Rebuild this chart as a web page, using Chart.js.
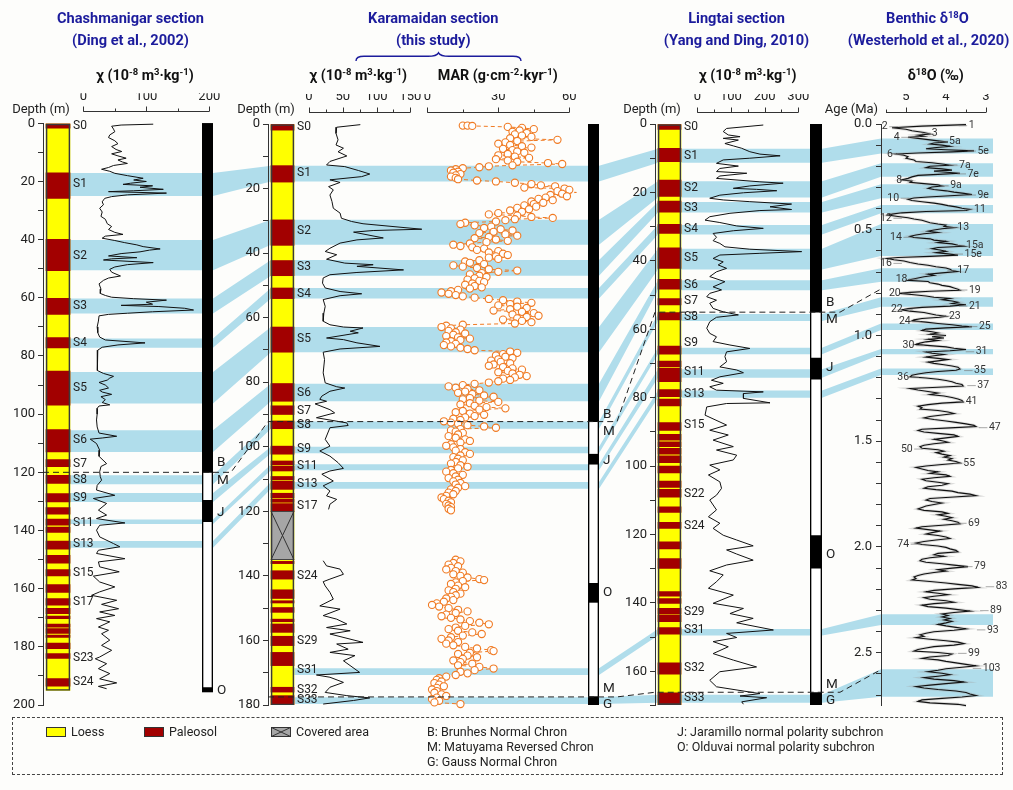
<!DOCTYPE html>
<html><head><meta charset="utf-8">
<title>Loess sections correlation</title>
<script src="https://cdn.jsdelivr.net/npm/chart.js@4.4.1/dist/chart.umd.min.js"></script>
<style>
html,body{margin:0;padding:0;background:#fdfdfb;}
#wrap{position:relative;width:1013px;height:790px;overflow:hidden;font-family:Roboto,"Noto Sans",sans-serif;color:#222;background:#fdfdfb;}
#wrap canvas{position:absolute;left:0;top:0;}
.tx{position:absolute;white-space:nowrap;transform:translate(-50%,-50%);line-height:1;z-index:60;}
.title{font-weight:bold;font-size:14.6px;color:#1c1c9c;}
.ax{font-weight:bold;font-size:14.3px;color:#111;}
.sup{font-size:9.5px;position:relative;top:-0.5em;}
.lbl{font-size:13px;color:#222;}
#legend{position:absolute;left:12px;top:717px;width:991px;height:58px;border:1px dashed #444;box-sizing:border-box;z-index:60;}
.lg{position:absolute;font-size:12.5px;white-space:nowrap;line-height:1;transform:translateY(-50%);z-index:61;color:#222;}
.sw{position:absolute;width:20px;height:10px;border:1px solid #333;box-sizing:border-box;z-index:61;}
</style></head>
<body>
<div id="wrap">
  <div class="tx title" style="left:130.5px;top:17.5px">Chashmanigar section</div>
  <div class="tx title" style="left:130.5px;top:39.5px">(Ding et al., 2002)</div>
  <div class="tx title" style="left:433.3px;top:17.5px">Karamaidan section</div>
  <div class="tx title" style="left:433.3px;top:39.5px">(this study)</div>
  <div class="tx title" style="left:736.5px;top:17.5px">Lingtai section</div>
  <div class="tx title" style="left:736.5px;top:39.5px">(Yang and Ding, 2010)</div>
  <div class="tx title" style="left:927.5px;top:17.5px">Benthic δ<span class="sup">18</span>O</div>
  <div class="tx title" style="left:928.5px;top:39.5px">(Westerhold et al., 2020)</div>

  <div class="tx ax" style="left:145px;top:75px">χ (10<span class="sup">-8</span> m<span class="sup">3</span>·kg<span class="sup">-1</span>)</div>
  <div class="tx ax" style="left:358.3px;top:74.5px">χ (10<span class="sup">-8</span> m<span class="sup">3</span>·kg<span class="sup">-1</span>)</div>
  <div class="tx ax" style="left:497.8px;top:74.5px">MAR (g·cm<span class="sup">-2</span>·kyr<span class="sup">-1</span>)</div>
  <div class="tx ax" style="left:747.8px;top:75px">χ (10<span class="sup">-8</span> m<span class="sup">3</span>·kg<span class="sup">-1</span>)</div>
  <div class="tx ax" style="left:935.8px;top:75px">δ<span class="sup">18</span>O (‰)</div>

  <div class="tx lbl" style="left:41px;top:108.3px">Depth (m)</div>
  <div class="tx lbl" style="left:266px;top:108.3px">Depth (m)</div>
  <div class="tx lbl" style="left:652px;top:108.3px">Depth (m)</div>
  <div class="tx lbl" style="left:851.5px;top:108.3px">Age (Ma)</div>

  <svg style="position:absolute;left:0;top:0;z-index:60;pointer-events:none" width="1013" height="80">
    <path d="M356,61 C356,57.5 359,56.3 364,56.3 L428,56.3 C434,56.3 437,55.5 438.5,52.8 C440,55.5 443,56.3 449,56.3 L513,56.3 C518,56.3 521,57.5 521,61" fill="none" stroke="#1c1c9c" stroke-width="1.4"/>
  </svg>

  <div id="legend"></div>
  <div class="sw" style="left:46px;top:727px;background:#ffff00"></div>
  <div class="lg" style="left:71px;top:732px">Loess</div>
  <div class="sw" style="left:144px;top:727px;background:#a20000"></div>
  <div class="lg" style="left:169px;top:732px">Paleosol</div>
  <svg style="position:absolute;left:271px;top:727px;z-index:61" width="20" height="10"><rect x="0.5" y="0.5" width="19" height="9" fill="#a6a6a6" stroke="#333"/><path d="M0.5,0.5 L19.5,9.5 M19.5,0.5 L0.5,9.5" stroke="#333" stroke-width="1"/></svg>
  <div class="lg" style="left:296px;top:732px">Covered area</div>
  <div class="lg" style="left:427px;top:732px">B: Brunhes Normal Chron</div>
  <div class="lg" style="left:427px;top:747px">M: Matuyama Reversed Chron</div>
  <div class="lg" style="left:427px;top:762px">G: Gauss Normal Chron</div>
  <div class="lg" style="left:677px;top:732px">J: Jaramillo normal polarity subchron</div>
  <div class="lg" style="left:677px;top:747px">O: Olduvai normal polarity subchron</div>
</div>
<script>
// ---------------- DATA ----------------
// Chashmanigar
const chashColumn = [0, 195];
const chashPaleosol = [[0,1.7],[17,25.8],[39.9,50.7],[60.2,65.7],[73.7,77.2],[85.2,96.9],[105.3,113],[115.6,118.1],[121,123.8],[127.3,130.2],[132.1,134.4],[136.1,138.2],[138.8,140.7],[143.6,146.4],[148.5,151.2],[153.4,155.6],[158.6,161.3],[163.4,165.7],[166.8,168.6],[169.4,170.3],[172.2,173.2],[173.7,175.4],[176,176.8],[178.7,180.6],[182.3,184],[190.9,193.5]];
const chashSoilNames = ['S0','S1','S2','S3','S4','S5','S6','S7','S8','S9','S11','S13','S15','S17','S23','S24'];
const chashSoilDepth = [1.0,21,45.6,62.9,75.5,91,109,117,122.7,128.7,137.3,144.8,154.5,164.6,183.7,192.1];
const chashChi = [[0.3,111],[0.6,60],[1,45],[2,48],[2.9,50],[4,42],[4.9,40],[6,50],[7,55],[8,45],[9,52],[9.7,61],[10.5,45],[11.2,55],[12,68],[12.6,55],[13.3,62],[13.8,70],[14.5,48],[15.2,40],[15.8,29],[16.5,42],[17.2,50],[18,70],[18.9,95],[19.5,80],[20,100],[20.6,75],[21,63],[21.5,110],[22,90],[22.7,127],[23.2,80],[23.5,40],[24,132],[24.6,70],[25.2,45],[25.8,34],[27,30],[28,32],[29.2,26],[30.5,30],[32,28],[33,35],[34.5,38],[35.5,45],[36.5,40],[37.5,50],[38.2,63],[38.8,35],[39.5,30],[40.3,50],[41,65],[41.8,85],[42.4,95],[43.2,122],[43.6,105],[44.2,90],[44.8,60],[45.6,40],[46.2,85],[46.6,45],[47,32],[47.9,111],[48.6,70],[49.4,50],[50.2,42],[51.2,45],[52.5,59],[53.2,40],[54,32],[55.2,25],[57,28],[58.5,27],[59.2,35],[59.8,45],[60.3,80],[60.8,132],[61.5,100],[62.2,110],[62.6,60],[63,120],[63.6,161],[64.2,175],[64.8,110],[65.3,70],[65.7,40],[66.2,25],[68,24],[70,22],[72,23],[73.5,26],[74.5,35],[75.5,98],[76.2,55],[77,30],[78,23],[80,22],[83,22],[85,23],[86,32],[87,48],[87.6,42],[88.3,38],[89.1,25],[90,35],[91,40],[91.8,26],[92.4,30],[93.2,45],[94,28],[95,35],[96,30],[96.8,42],[97.2,25],[98,22],[100,22],[102,21],[104.4,22],[106.5,25],[107.6,53],[108.2,30],[108.6,11],[110.1,21],[112.4,26],[114.5,25],[117,37],[118,28],[119.8,26],[121.5,27],[122.7,29],[124.5,22],[126.1,21],[127.9,50],[129,16],[130.7,37],[133,24],[134.7,37],[135.9,21],[137.4,66],[138.2,26],[139.9,21],[142.2,26],[144.5,48],[145.6,58],[146.8,24],[147.9,21],[149.7,66],[150.8,24],[152.5,26],[154.2,57],[155.7,16],[157.7,26],[159.4,50],[161.1,26],[162.3,13],[164,53],[165.4,29],[166.9,56],[168,26],[169.2,50],[170.3,21],[171.4,42],[173.2,24],[174.3,40],[175.5,29],[177.7,42],[179.5,29],[181.2,45],[183.5,26],[184.1,19],[185.8,37],[187.5,24],[189.2,42],[191,26],[192.4,53],[193.6,24],[194.4,37]];
const chashMagExtent = [0, 195.5];
const chashNormal = [[0,120],[129.6,137],[194,195.5]];
const chashMagNames = ['B','M','J','O'];
const chashMagDepth = [116.5,122.7,133.7,194.9];

// Karamaidan
const karaColumn = [0, 180];
const karaCovered = [120, 135];
const karaPaleosol = [[0,1.9],[12.9,18],[29.7,37.6],[42.3,47],[50.8,54.1],[62.9,70.7],[80.4,85.9],[87.3,90],[92,94.4],[99.8,102.3],[104.4,105.6],[106,107.5],[109.2,110.2],[110.6,113.2],[114.4,115.8],[116.2,117.2],[117.6,120],[135.5,136.2],[138.4,141],[144.3,147],[147.7,148.4],[149.8,151.3],[153.4,154.2],[154.9,157.5],[158.7,161.6],[163.7,167.8],[174.5,176],[177.1,180]];
const karaSoilNames = ['S0','S1','S2','S3','S4','S5','S6','S7','S8','S9','S11','S13','S17','S24','S29','S31','S32','S33'];
const karaSoilDepth = [1,15.3,33.3,44.3,52.6,66.6,83.3,88.9,93.4,100.8,106,111.6,118.5,140,160.1,169.1,175.5,178.6];
const karaChiUpper = [[0.2,76],[1,41],[2.9,40],[4.9,43],[6.5,40],[7.5,51],[8.6,43],[9.9,56],[11.6,31],[12.7,26],[13.2,53],[14.4,73],[15.5,90],[16.3,78],[17.3,31],[18.1,46],[19.4,29],[20.4,36],[22,31],[24,34],[26.1,36],[27.6,46],[29.2,48],[30.2,63],[30.9,80],[32.6,167],[33,95],[33.5,66],[35.3,110],[35.9,71],[36.9,46],[38.5,31],[39.5,24],[40.5,41],[41.9,26],[43.1,53],[43.6,95],[44.1,71],[45.2,140],[46,71],[46.7,31],[47.7,21],[49.3,20],[50.8,24],[51.9,46],[52.6,78],[53.2,46],[54.4,21],[56.5,24],[58.6,22],[61.1,21],[62.2,31],[62.9,51],[63.2,80],[64.2,61],[64.7,73],[66.3,26],[66.8,51],[67.8,71],[68.9,105],[69.7,46],[70.7,21],[73,23],[77.1,21],[80.2,24],[81.4,41],[81.8,53],[82.8,31],[84.3,19],[85.3,16],[85.9,26],[86.7,9],[88.5,31],[89.5,38],[91,11],[92.6,56],[93.4,58],[94.1,31],[97.7,24],[99.8,31],[101.3,16],[102.9,31],[104.9,43],[106.7,51],[107.5,31],[108.5,19],[110.6,36],[112.1,21],[113.7,31],[115.2,26],[116.3,41],[117.8,31],[119.4,29]];
const karaChiLower = [[135.3,21],[136.9,26],[137.9,46],[139.5,51],[141,31],[141.8,21],[143.1,24],[145.1,31],[147.2,36],[149.3,16],[150.3,46],[152.3,21],[153.4,41],[154.9,56],[156,26],[157,61],[158,31],[160.6,80],[161.1,41],[162.7,58],[163.7,31],[164.7,68],[166.3,51],[169.9,75],[170.7,11],[171.4,31],[173,51],[174.5,31],[176.1,24],[177.1,56],[177.8,90],[178.6,66],[179.7,21]];
const karaMarUpper = [[0.5,15],[0.5,17],[0.6,19],[0.9,34],[1.2,40],[1.6,45],[2.0,39],[2.4,36],[2.8,42],[3.2,37],[3.6,40],[4.0,44],[4.4,35],[4.9,55],[5.3,38],[5.7,33],[6.1,30],[6.5,35],[6.9,40],[7.3,44],[7.7,32],[8.1,36],[8.5,38],[8.9,41],[9.3,34],[9.7,30],[10.1,37],[10.5,43],[10.9,29],[11.3,34],[11.7,38],[12.1,51],[12.4,57],[12.8,36],[13.1,26],[13.4,22],[13.7,15],[14.0,12],[14.4,10],[14.8,13],[15.1,11],[15.5,14],[15.9,12],[16.3,10],[16.7,12],[17.1,13],[17.5,21],[17.8,29],[18.2,37],[18.6,44],[19.0,48],[19.3,54],[19.7,41],[20.0,58],[20.4,60],[20.8,55],[21.2,63],[21.6,57],[22.0,52],[22.4,59],[22.8,50],[23.2,47],[23.6,53],[24.0,44],[24.4,49],[24.8,45],[25.2,41],[25.6,46],[26.0,38],[26.4,43],[26.8,35],[27.2,40],[27.6,30],[28.0,26],[28.4,38],[28.8,44],[29.1,53],[29.5,37],[29.8,33],[30.2,29],[30.6,16],[31.0,14],[31.4,20],[31.8,27],[32.2,24],[32.6,31],[33.0,36],[33.4,28],[33.8,22],[34.2,33],[34.6,38],[35.0,26],[35.4,20],[35.8,29],[36.2,34],[36.6,25],[37.0,18],[37.4,11],[37.8,14],[38.2,19],[38.6,24],[39.0,21],[39.4,30],[39.8,26],[40.2,32],[40.6,34],[41.0,29],[41.4,26],[41.8,30],[42.2,22],[42.6,16],[43.0,18],[43.4,24],[43.8,11],[44.2,15],[44.6,21],[45.0,26],[45.4,38],[45.8,30],[46.2,23],[46.6,18],[47.0,22],[47.4,25],[47.8,20],[48.2,17],[48.6,22],[49.0,24],[49.4,19],[49.8,16],[50.2,20],[50.6,23],[51.0,18],[51.4,13],[51.8,10],[52.2,6],[52.6,9],[53.0,12],[53.4,15],[53.8,20],[54.2,26],[54.6,32],[55.0,38],[55.4,44],[55.8,35],[56.2,30],[56.6,38],[57.0,42],[57.4,35],[57.8,28],[58.2,40],[58.6,45],[59.0,36],[59.4,47],[59.8,42],[60.2,38],[60.6,32],[61.0,40],[61.4,44],[61.8,37],[62.2,15],[62.5,8],[62.9,6],[63.3,10],[63.7,14],[64.1,9],[64.5,12],[64.9,16],[65.3,11],[65.7,8],[66.1,13],[66.5,18],[66.9,14],[67.3,10],[67.7,8],[68.1,12],[68.5,7],[68.9,10],[69.3,14],[69.7,17],[70.1,20],[70.5,35],[70.9,38],[71.3,32],[71.7,29],[72.1,33],[72.5,36],[72.9,30],[73.3,27],[73.7,31],[74.1,35],[74.5,28],[74.9,26],[75.3,32],[75.7,36],[76.1,40],[76.5,34],[76.9,30],[77.3,36],[77.7,39],[78.1,42],[78.5,37],[78.9,32],[79.3,35],[79.7,30],[80.1,26],[80.5,20],[80.9,15],[81.3,9],[81.7,12],[82.1,17],[82.5,22],[82.9,16],[83.3,13],[83.7,19],[84.1,24],[84.5,28],[84.9,18],[85.3,15],[85.7,22],[86.1,30],[86.5,18],[86.9,14],[87.3,20],[87.7,25],[88.1,33],[88.5,22],[88.9,15],[89.3,12],[89.7,18],[90.1,24],[90.5,20],[90.9,16],[91.3,11],[91.7,14],[92.1,7],[92.5,10],[92.9,13],[93.3,17],[93.7,24],[94.1,29],[94.5,14],[94.9,10],[95.3,12],[95.7,15],[96.2,13],[96.7,9],[97.2,12],[97.7,16],[98.2,18],[98.7,14],[99.2,10],[99.7,8],[100.2,11],[100.7,14],[101.2,12],[101.7,16],[102.2,18],[102.7,14],[103.2,11],[103.7,13],[104.2,15],[104.7,12],[105.2,10],[105.7,14],[106.2,17],[106.7,13],[107.2,10],[107.7,8],[108.2,11],[108.7,15],[109.2,12],[109.7,9],[110.2,13],[110.7,11],[111.2,14],[111.7,12],[112.2,16],[112.7,13],[113.2,10],[113.7,12],[114.2,9],[114.7,11],[115.2,8],[115.7,6],[116.2,7],[116.7,9],[117.2,10],[117.7,8],[118.2,9],[118.7,10],[119.2,9],[119.7,10]];
const karaMarLower = [[135.0,12],[135.5,14],[136.0,11],[136.5,9],[137.0,13],[137.5,10],[138.0,8],[138.5,12],[139.0,15],[139.5,11],[140.0,14],[140.5,17],[141.0,22],[141.3,24],[141.6,15],[142.0,12],[142.5,10],[143.0,13],[143.5,16],[144.0,12],[144.5,9],[145.0,11],[145.5,14],[146.0,12],[146.5,10],[147.0,8],[147.5,11],[148.0,7],[148.5,4],[149.0,2],[149.5,5],[150.0,9],[150.5,13],[151.0,17],[151.5,12],[152.0,8],[152.5,6],[153.0,10],[153.5,14],[154.0,18],[154.5,22],[155.0,26],[155.5,16],[156.0,12],[156.5,9],[157.0,13],[157.5,19],[158.0,23],[158.5,15],[159.0,10],[159.5,6],[160.0,9],[160.5,13],[161.0,8],[161.5,11],[162.0,16],[162.5,21],[163.0,27],[163.3,28],[163.8,18],[164.2,13],[164.7,17],[165.2,21],[165.7,15],[166.2,11],[166.7,14],[167.2,19],[167.7,13],[168.2,22],[168.7,28],[169.2,20],[169.7,14],[170.2,17],[170.7,12],[171.2,8],[171.7,5],[172.2,4],[172.7,6],[173.2,3],[173.7,5],[174.2,7],[174.7,4],[175.2,2],[175.7,4],[176.2,3],[176.7,6],[177.2,8],[177.7,4],[178.2,2],[178.7,5],[179.2,3],[179.7,14]];
const karaMagExtent = [0, 180];
const karaNormal = [[0,92.2],[102.3,105.4],[142.3,148.2],[177.4,180]];
const karaMagNames = ['B','M','J','O','M','G'];
const karaMagDepth = [90.1,95.4,104.4,145.3,175.0,180.0];

// Lingtai
const lingColumn = [0, 169.7];
const lingPaleosol = [[0,1.6],[7.1,11],[16.4,21.2],[22.5,25.8],[29.3,32],[36.2,42.2],[45.4,48.3],[51,52.9],[55.1,57.3],[64.9,67.3],[69.3,71],[71.4,75.3],[77.6,79.7],[80.4,82.4],[87.3,89.6],[90.7,92.4],[92.9,94.3],[94.8,96.5],[97,99],[100,102],[104.4,106.2],[106.8,109.1],[111.9,113.5],[116.4,118.2],[122.1,124.2],[127,129.9],[136.7,138],[138.7,140.1],[141.6,143.1],[143.5,145.5],[147.2,149.1],[157.5,160.8],[166.3,169.7]];
const lingSoilNames = ['S0','S1','S2','S3','S4','S5','S6','S7','S8','S9','S11','S13','S15','S22','S24','S29','S31','S32','S33'];
const lingSoilDepth = [0.8,9.3,18.8,24.5,30.8,39.3,47.1,51.8,56.3,64.0,72.6,78.8,88,108.2,117.5,142.6,148,159.1,167.9];
const lingChi = [[0.3,196],[1.3,87],[2.2,77],[3.2,92],[3.7,127],[4.2,77],[4.7,122],[5.7,82],[6.4,107],[7.1,132],[8.1,156],[8.8,186],[9.3,246],[10,156],[10.5,77],[11.5,57],[12.3,122],[13,67],[13.9,57],[14.4,147],[15.2,67],[15.9,57],[16.9,186],[17.3,255],[18.1,156],[18.8,107],[19.1,176],[19.5,236],[20.1,137],[20.8,67],[21.7,37],[22.2,77],[22.7,156],[23.4,280],[24.2,216],[25,280],[25.3,186],[26.1,97],[27.1,37],[28.1,23],[28.8,67],[29.8,117],[30.5,196],[31.2,107],[32,47],[33.1,57],[34.1,47],[34.9,67],[35.9,82],[36.6,156],[37.3,310],[37.8,186],[38.3,67],[39.3,47],[40.3,77],[41.2,62],[42.2,87],[43.2,57],[44.6,37],[46.1,82],[47.6,47],[48.5,72],[49.5,37],[50.5,28],[51.5,57],[52.4,37],[53.9,47],[54.9,77],[55.8,122],[56.5,57],[57.8,37],[59.7,28],[61.2,37],[62.2,57],[63.6,47],[64.6,97],[65.6,156],[66.6,87],[68,82],[69.5,87],[71,67],[71.9,117],[72.7,137],[73.9,67],[74.9,42],[75.8,77],[76.8,37],[77.8,57],[78.3,196],[78.8,137],[80.2,137],[81.5,216],[81.7,87],[82.7,28],[85.1,23],[88,87],[89.5,37],[90.9,92],[92.4,47],[94.3,107],[95.3,57],[96.8,117],[98.2,107],[99.7,37],[101.1,67],[102.6,33],[104.6,67],[106.5,72],[108.5,57],[109.9,37],[112.8,57],[114.8,33],[116.7,67],[118.2,47],[120.2,77],[121.6,117],[123.3,166],[124.5,87],[125.7,117],[127.5,166],[128.9,87],[130.6,37],[131.8,77],[133.8,57],[135.7,33],[137.7,107],[140.1,47],[141.6,137],[143.1,97],[144.5,166],[145.8,117],[147.9,226],[148.9,87],[150.1,117],[151.3,47],[152.8,92],[154.8,47],[156.7,107],[158.7,176],[160.1,67],[162.6,37],[164.5,57],[166.5,186],[167.2,127],[167.7,206],[168.9,132],[169.6,137]];
const lingMagExtent = [0, 169.7];
const lingNormal = [[0,55],[68.4,74.6],[120.3,129.8],[166.2,169.7]];
const lingMagNames = ['B','M','J','O','M','G'];
const lingMagDepth = [52.3,57.3,71.3,126.0,164.0,168.4];

// Benthic d18O (age Ma, permil)
const d18Record = [[0.003,3.50],[0.010,4.60],[0.018,5.35],[0.025,5.00],[0.032,4.85],[0.040,4.55],[0.047,4.40],[0.053,4.70],[0.058,4.55],[0.063,4.95],[0.068,4.70],[0.074,4.45],[0.080,4.20],[0.085,3.95],[0.090,4.30],[0.095,4.40],[0.100,4.10],[0.106,3.90],[0.112,4.30],[0.117,4.50],[0.122,4.00],[0.127,3.30],[0.132,3.85],[0.137,4.70],[0.142,5.25],[0.148,5.05],[0.155,4.95],[0.162,5.00],[0.170,4.80],[0.177,4.75],[0.183,4.35],[0.190,4.05],[0.195,3.90],[0.200,4.40],[0.206,4.50],[0.212,4.10],[0.218,3.85],[0.223,4.30],[0.228,4.00],[0.233,3.65],[0.238,4.20],[0.243,4.70],[0.250,4.85],[0.257,4.95],[0.264,5.10],[0.270,4.85],[0.276,4.90],[0.282,4.55],[0.288,4.20],[0.293,4.10],[0.298,4.35],[0.304,4.45],[0.310,4.30],[0.316,4.00],[0.322,3.80],[0.328,3.55],[0.333,3.35],[0.339,3.90],[0.345,4.45],[0.350,4.80],[0.356,4.95],[0.362,4.85],[0.368,4.60],[0.374,4.30],[0.380,4.10],[0.386,3.95],[0.392,3.75],[0.398,3.60],[0.404,3.40],[0.409,3.50],[0.414,4.50],[0.420,5.10],[0.426,5.35],[0.431,5.45],[0.437,5.20],[0.443,4.95],[0.449,4.80],[0.455,4.60],[0.461,4.50],[0.467,4.40],[0.473,4.20],[0.478,4.00],[0.484,4.05],[0.490,3.80],[0.495,4.10],[0.501,4.30],[0.507,4.45],[0.513,4.20],[0.519,4.55],[0.525,4.75],[0.531,4.90],[0.537,4.80],[0.543,4.40],[0.549,4.30],[0.555,4.00],[0.561,4.20],[0.567,3.85],[0.573,3.70],[0.578,3.55],[0.584,4.20],[0.590,4.35],[0.596,4.15],[0.602,4.00],[0.608,4.25],[0.614,3.95],[0.620,3.70],[0.626,4.40],[0.631,5.20],[0.636,5.48],[0.642,5.30],[0.648,5.05],[0.655,4.90],[0.662,4.70],[0.668,4.45],[0.675,4.25],[0.681,4.00],[0.687,3.90],[0.693,3.85],[0.698,3.72],[0.704,4.10],[0.710,4.45],[0.716,4.30],[0.722,4.55],[0.728,4.70],[0.734,4.85],[0.739,4.95],[0.745,4.45],[0.751,4.40],[0.757,4.20],[0.763,4.10],[0.769,3.90],[0.775,3.80],[0.781,3.70],[0.786,3.65],[0.791,4.40],[0.796,4.90],[0.801,5.15],[0.807,4.80],[0.813,4.50],[0.819,4.30],[0.825,3.90],[0.831,4.10],[0.837,3.85],[0.843,3.70],[0.849,3.85],[0.855,3.50],[0.861,3.90],[0.867,4.60],[0.873,4.95],[0.879,5.10],[0.885,4.90],[0.891,4.55],[0.897,4.40],[0.903,4.25],[0.909,4.00],[0.914,4.15],[0.920,4.60],[0.926,4.80],[0.931,4.85],[0.937,4.50],[0.943,4.20],[0.949,3.85],[0.955,3.60],[0.959,3.35],[0.964,4.00],[0.970,4.50],[0.976,4.60],[0.982,4.35],[0.988,4.20],[0.994,4.40],[1.000,4.00],[1.006,4.35],[1.012,4.05],[1.018,4.45],[1.024,4.20],[1.030,4.50],[1.036,4.65],[1.042,4.75],[1.048,4.40],[1.054,4.00],[1.060,3.80],[1.066,3.50],[1.072,3.90],[1.078,4.50],[1.084,4.35],[1.090,4.05],[1.096,4.30],[1.102,4.50],[1.108,4.20],[1.114,3.95],[1.120,4.20],[1.126,4.45],[1.132,4.30],[1.138,4.05],[1.144,3.85],[1.150,3.70],[1.158,3.65],[1.164,3.75],[1.170,4.20],[1.176,4.50],[1.182,4.70],[1.188,4.85],[1.195,4.90],[1.201,4.50],[1.207,4.20],[1.213,4.00],[1.219,3.85],[1.226,3.75],[1.232,3.60],[1.239,3.57],[1.245,4.20],[1.251,4.90],[1.258,4.70],[1.265,4.45],[1.272,4.20],[1.279,4.40],[1.286,4.05],[1.293,3.85],[1.300,3.70],[1.307,3.60],[1.314,3.57],[1.320,4.10],[1.327,4.45],[1.334,4.70],[1.341,4.60],[1.348,4.65],[1.355,4.20],[1.362,3.95],[1.369,3.80],[1.376,4.10],[1.383,4.40],[1.390,4.55],[1.397,4.30],[1.404,4.00],[1.411,3.75],[1.418,3.50],[1.425,3.30],[1.431,3.25],[1.437,3.90],[1.443,4.60],[1.449,4.70],[1.456,4.55],[1.463,4.20],[1.470,3.80],[1.477,3.70],[1.484,4.00],[1.491,4.30],[1.498,4.10],[1.505,3.95],[1.512,4.30],[1.519,4.55],[1.526,4.65],[1.533,4.60],[1.540,4.20],[1.547,4.05],[1.554,4.25],[1.561,4.10],[1.568,3.90],[1.575,4.05],[1.582,3.85],[1.589,3.95],[1.596,3.75],[1.603,3.65],[1.610,4.10],[1.617,4.50],[1.624,4.75],[1.631,4.60],[1.638,4.45],[1.645,4.20],[1.652,4.40],[1.659,4.00],[1.666,3.90],[1.673,4.30],[1.680,4.60],[1.687,4.50],[1.694,4.20],[1.701,3.95],[1.708,4.10],[1.715,4.45],[1.722,4.55],[1.729,4.25],[1.736,3.85],[1.743,3.70],[1.750,3.40],[1.757,3.25],[1.764,3.80],[1.771,4.40],[1.778,4.50],[1.785,4.35],[1.792,4.10],[1.799,4.30],[1.806,4.50],[1.813,4.60],[1.820,4.70],[1.827,4.55],[1.834,4.10],[1.841,3.95],[1.848,4.20],[1.855,4.00],[1.862,3.85],[1.869,4.05],[1.876,3.85],[1.883,3.70],[1.890,3.65],[1.897,4.10],[1.904,4.60],[1.911,4.75],[1.918,4.45],[1.925,4.15],[1.932,4.35],[1.939,4.50],[1.946,4.20],[1.953,4.00],[1.960,3.90],[1.967,4.25],[1.974,4.55],[1.981,4.75],[1.988,4.60],[1.995,4.20],[2.002,4.00],[2.009,3.90],[2.016,3.75],[2.023,3.70],[2.030,4.20],[2.037,4.30],[2.044,4.05],[2.051,4.40],[2.058,4.60],[2.065,4.65],[2.072,4.50],[2.079,4.10],[2.086,3.80],[2.093,3.45],[2.100,3.85],[2.107,4.20],[2.114,4.00],[2.121,4.30],[2.128,4.55],[2.135,4.70],[2.142,4.80],[2.149,4.75],[2.156,4.85],[2.163,4.40],[2.170,4.00],[2.177,3.70],[2.184,3.35],[2.191,3.20],[2.198,3.80],[2.205,4.30],[2.212,4.50],[2.219,4.20],[2.226,3.95],[2.233,4.30],[2.240,4.55],[2.247,4.40],[2.254,4.00],[2.261,3.80],[2.268,4.30],[2.275,4.60],[2.282,4.45],[2.289,4.00],[2.296,3.70],[2.303,3.40],[2.310,3.80],[2.317,4.10],[2.324,3.95],[2.331,4.10],[2.338,3.90],[2.345,4.05],[2.352,3.85],[2.359,4.00],[2.366,4.20],[2.373,4.00],[2.380,3.75],[2.387,3.50],[2.394,3.80],[2.401,4.30],[2.408,4.50],[2.415,4.65],[2.422,4.55],[2.429,4.75],[2.436,4.40],[2.443,4.00],[2.450,3.70],[2.457,3.55],[2.464,3.80],[2.471,4.30],[2.478,4.50],[2.485,4.70],[2.492,4.80],[2.499,4.20],[2.506,3.85],[2.513,3.95],[2.520,4.40],[2.527,4.60],[2.534,4.20],[2.541,4.00],[2.548,3.75],[2.555,3.50],[2.562,3.25],[2.569,3.60],[2.576,4.00],[2.583,4.20],[2.590,4.45],[2.597,4.10],[2.604,3.90],[2.611,4.20],[2.618,4.55],[2.625,4.30],[2.632,3.80],[2.639,3.55],[2.646,4.00],[2.653,4.40],[2.660,4.75],[2.667,4.55],[2.674,4.20],[2.681,3.75],[2.688,3.50],[2.695,3.40],[2.702,3.25],[2.709,3.60],[2.716,4.10],[2.723,4.60],[2.730,4.70],[2.737,4.40],[2.744,3.70],[2.750,3.50]];
const misNames = ['1','2','3','4','5a','5e','6','7a','7e','8','9a','9e','10','11','12','13','14','15a','15e','16','17','18','19','20','21','22','23','24','25','30','31','35','36','37','41','47','50','55','69','74','79','83','89','93','99','103'];
const misDelta = [3.36,5.53,4.28,5.23,3.78,3.07,5.40,3.53,3.32,5.17,3.75,3.07,5.32,3.15,5.50,3.57,5.25,3.28,3.32,5.50,3.57,5.11,3.28,5.28,3.28,5.23,3.78,5.03,3.03,4.94,3.11,3.15,5.07,3.07,3.36,2.78,4.98,3.42,3.30,5.07,3.15,2.61,2.75,2.83,3.30,2.86];
const misAge = [0.008,0.013,0.044,0.063,0.084,0.128,0.143,0.194,0.236,0.265,0.292,0.336,0.351,0.403,0.446,0.490,0.536,0.575,0.615,0.659,0.694,0.734,0.785,0.800,0.861,0.876,0.911,0.935,0.958,1.048,1.077,1.166,1.198,1.237,1.313,1.436,1.537,1.604,1.888,1.987,2.093,2.188,2.301,2.392,2.503,2.574];

// Correlation bands (top, bottom) in each section
const bandChash = [[17.1,25.0],[40.1,50.5],[60.2,65.4],[74.0,77.2],[85.5,96.3],[105.5,113.0],[121,124.1],[127.1,130.2],[136.2,137.8],[143.6,145.9]];
const bandKara = [[12.9,17.8],[29.7,37.4],[42.1,47.0],[50.8,54.1],[62.9,70.7],[80.5,85.9],[92.2,94.4],[100,102],[105.4,107.3],[110.9,113],[168.6,170.7],[177.6,179.7]];
const bandLing = [[7.2,11.3],[16.7,21.5],[22.8,25.9],[29.5,32.3],[36.5,42.5],[45.7,48.6],[55.5,57.6],[65.4,67.3],[71.7,74.2],[77.9,80.0],[147.6,149.5],[166.8,169.2]];
const bandAge = [[0.068,0.139],[0.186,0.249],[0.285,0.351],[0.383,0.422],[0.473,0.624],[0.682,0.746],[0.819,0.864],[0.943,0.974],[1.064,1.089],[1.156,1.187],[2.318,2.369],[2.578,2.708]];
// Chron boundaries: [Chashmanigar, Karamaidan, Lingtai depth m, benthic age Ma]
const brunhesMatuyama = [120, 92.2, 55.0, 0.78];
const matuyamaGauss = [null, 177.5, 166.1, 2.58];

// Tick values
const chashChiTicks = [0,50,100,150,200], chashChiLabels = [0,100,200];
const karaChiTicks = [0,25,50,75,100,125,150], karaChiLabels = [0,50,100,150];
const marTicks = [0,15,30,45,60], marLabels = [0,30,60];
const lingChiTicks = [0,50,100,150,200,250,300], lingChiLabels = [0,100,200,300];
const d18Ticks = [5.5,5,4.5,4,3.5,3], d18Labels = [5,4,3];
const ageTicks = [0,0.1,0.2,0.3,0.4,0.5,0.6,0.7,0.8,0.9,1.0,1.1,1.2,1.3,1.4,1.5,1.6,1.7,1.8,1.9,2.0,2.1,2.2,2.3,2.4,2.5,2.6,2.7];
const ageLabels = [0,0.5,1.0,1.5,2.0,2.5];

// ---------------- STYLE / LAYOUT ----------------
const W = 1013, H = 790, XH = 30, YW = 40;
const LOESS = '#ffff00', PALEO = '#a20000', ORANGE = '#f07a22', BAND = 'rgb(176,221,235)';
const DPR = window.devicePixelRatio || 1;
Chart.defaults.font.family = 'Roboto, "Noto Sans", sans-serif';
Chart.defaults.font.size = 13;
Chart.defaults.color = '#222';
const wrap = document.getElementById('wrap');

function newCanvas(z) {
  const c = document.createElement('canvas');
  c.width = W; c.height = H;
  c.style.width = W + 'px'; c.style.height = H + 'px'; c.style.zIndex = z;
  wrap.appendChild(c);
  return c;
}
function plainCanvas(z) {
  const c = document.createElement('canvas');
  c.width = W * DPR; c.height = H * DPR;
  c.style.width = W + 'px'; c.style.height = H + 'px'; c.style.zIndex = z;
  wrap.appendChild(c);
  const ctx = c.getContext('2d'); ctx.scale(DPR, DPR);
  return ctx;
}
const bandCtx = plainCanvas(1);
let zc = 2;
function mk(config) { return new Chart(newCanvas(zc++), config); }

function textPlugin(sets) {
  return { id: 'textMarks', afterDraw(chart) {
    const ctx = chart.ctx, xs = chart.scales.x, ys = chart.scales.y;
    sets.forEach(s => {
      ctx.save();
      ctx.font = s.font; ctx.fillStyle = s.color || '#222';
      ctx.textAlign = s.align || 'left'; ctx.textBaseline = 'middle';
      s.names.forEach((n, i) => {
        const x = s.xs ? xs.getPixelForValue(s.xs[i]) : chart.chartArea.right + (s.dx || 0);
        const y = ys.getPixelForValue(s.ys[i]);
        ctx.fillText(n, x, y);
        if (s.leader) {
          const w = ctx.measureText(n).width / 2;
          const leftSide = s.xs[i] > s.leader;
          ctx.save(); ctx.strokeStyle = 'rgba(120,120,120,0.8)'; ctx.lineWidth = 0.8; ctx.beginPath();
          if (leftSide) { ctx.moveTo(x + w + 1.5, y); ctx.lineTo(x + w + 10, y); }
          else { ctx.moveTo(x - w - 1.5, y); ctx.lineTo(x - w - 10, y); }
          ctx.stroke(); ctx.restore();
        }
      });
      ctx.restore();
    });
  }};
}
function bracketPlugin(ticks, labels) {
  return { id: 'bracket', afterDraw(chart) {
    const s = chart.scales.x, ctx = chart.ctx, y = Math.round(chart.chartArea.top - 12) + 0.5;
    const px = ticks.map(v => s.getPixelForValue(v));
    ctx.save(); ctx.strokeStyle = '#333'; ctx.lineWidth = 1; ctx.beginPath();
    ctx.moveTo(Math.min(...px), y); ctx.lineTo(Math.max(...px), y);
    ticks.forEach((v, i) => { const len = labels.includes(v) ? 5 : 3; const x = Math.round(px[i]) + 0.5; ctx.moveTo(x, y); ctx.lineTo(x, y - len); });
    ctx.stroke(); ctx.restore();
  }};
}
function coverPlugin(dsIndex) {
  return { id: 'coverX', afterDatasetsDraw(chart) {
    const el = chart.getDatasetMeta(dsIndex).data[0]; if (!el) return;
    const l = el.x - el.width / 2, r = el.x + el.width / 2, t = Math.min(el.y, el.base), b = Math.max(el.y, el.base);
    const ctx = chart.ctx; ctx.save(); ctx.strokeStyle = '#333'; ctx.lineWidth = 1; ctx.beginPath();
    ctx.moveTo(l, t); ctx.lineTo(r, b); ctx.moveTo(r, t); ctx.lineTo(l, b); ctx.stroke(); ctx.restore();
  }};
}
const noInteract = { responsive: false, animation: false, events: [] };

function stripChart(area, cfg) {
  const ds = [];
  ds.push({ data: [{ x: 0.5, y: cfg.extent }], backgroundColor: 'rgba(0,0,0,0)', borderColor: cfg.edge, borderWidth: 1, order: 0 });
  let coverIdx = -1;
  if (cfg.covered) { coverIdx = ds.length; ds.push({ data: [{ x: 0.5, y: cfg.covered }], backgroundColor: '#a6a6a6', borderColor: '#444', borderWidth: 1, order: 1 }); }
  ds.push({ data: cfg.layers.map(p => ({ x: 0.5, y: p })), backgroundColor: cfg.layerColor, borderWidth: 0, order: 2 });
  ds.push({ data: [{ x: 0.5, y: cfg.extent }], backgroundColor: cfg.baseColor, borderWidth: 0, order: 3 });
  ds.forEach(d => { d.barThickness = cfg.barW; d.grouped = false; d.borderSkipped = false; });
  const plugins = [textPlugin(cfg.text)];
  if (coverIdx >= 0) plugins.push(coverPlugin(coverIdx));
  const yScale = { type: 'linear', min: 0, max: cfg.yMax, reverse: true, position: 'left', display: !!cfg.axis };
  if (cfg.axis) Object.assign(yScale, {
    afterFit: s => { s.width = YW; },
    ticks: { stepSize: 10, autoSkip: false, padding: 3, callback: v => (v % 20 === 0 ? String(v) : '') },
    grid: { display: true, drawOnChartArea: false, drawTicks: true, tickLength: 5, color: '#333' },
    border: { display: true, color: '#333', width: 1 } });
  return mk({
    type: 'bar',
    data: { datasets: ds },
    options: Object.assign({}, noInteract, {
      layout: { padding: { left: area.l - (cfg.axis ? YW : 0), right: W - area.r, top: area.t, bottom: H - area.b } },
      plugins: { legend: { display: false }, tooltip: { enabled: false } },
      scales: {
        x: { type: 'linear', min: 0, max: 1, display: false, offset: false },
        y: yScale
      }
    }),
    plugins
  });
}

function curveChart(area, cfg) {
  const plugins = [bracketPlugin(cfg.ticks, cfg.labels)];
  if (cfg.text) plugins.push(textPlugin(cfg.text));
  return mk({
    type: 'scatter',
    data: { datasets: cfg.datasets },
    options: Object.assign({}, noInteract, {
      layout: { padding: { left: area.l - (cfg.yAxis ? YW : 0), right: W - area.r, top: area.t - XH, bottom: H - area.b } },
      plugins: { legend: { display: false }, tooltip: { enabled: false } },
      scales: {
        x: { type: 'linear', position: 'top', min: cfg.xMin, max: cfg.xMax, reverse: !!cfg.xReverse,
             afterFit: s => { s.height = XH; },
             afterBuildTicks: s => { s.ticks = cfg.ticks.map(v => ({ value: v })); },
             ticks: { autoSkip: false, maxRotation: 0, minRotation: 0, padding: 19, callback: v => (cfg.labels.includes(v) ? String(v) : '') },
             grid: { display: false, drawTicks: false }, border: { display: false } },
        y: cfg.yAxis || { type: 'linear', min: 0, max: cfg.yMax, reverse: true, display: false }
      }
    }),
    plugins
  });
}
const toXY = arr => arr.map(p => ({ x: p[1], y: p[0] }));
const blackLine = data => ({ data: toXY(data), showLine: true, borderColor: '#111', borderWidth: 1, pointRadius: 0, clip: false, tension: 0 });
const marSet = data => ({ data: toXY(data), showLine: true, borderColor: ORANGE, borderWidth: 1, borderDash: [4, 3], pointRadius: 3.6,
  pointBorderColor: ORANGE, pointBackgroundColor: '#ffffff', pointBorderWidth: 1.1, clip: false, tension: 0 });

// ---------------- CHASHMANIGAR ----------------
const cTop = 123.3, cBot = 705;
const cCol = stripChart({ l: 43, r: 73, t: cTop, b: cBot }, { axis: true, yMax: 200, extent: chashColumn, layers: chashPaleosol,
  layerColor: PALEO, baseColor: LOESS, edge: '#3a3a3a', barW: 24,
  text: [{ names: chashSoilNames, ys: chashSoilDepth, dx: 0, font: '12px Roboto' }] });
curveChart({ l: 83.3, r: 209.3, t: cTop, b: cBot }, { xMin: 0, xMax: 200, yMax: 200, ticks: chashChiTicks, labels: chashChiLabels,
  datasets: [blackLine(chashChi)] });
const cMag = stripChart({ l: 202, r: 213, t: cTop, b: cBot }, { axis: false, yMax: 200, extent: chashMagExtent, layers: chashNormal,
  layerColor: '#000', baseColor: '#fff', edge: '#000', barW: 11,
  text: [{ names: chashMagNames, ys: chashMagDepth, dx: 4, font: '13.5px Roboto' }] });

// ---------------- KARAMAIDAN ----------------
const kTop = 124, kBot = 705;
const kCol = stripChart({ l: 268, r: 297, t: kTop, b: kBot }, { axis: true, yMax: 180, extent: karaColumn, layers: karaPaleosol, covered: karaCovered,
  layerColor: PALEO, baseColor: LOESS, edge: '#3a3a3a', barW: 23,
  text: [{ names: karaSoilNames, ys: karaSoilDepth, dx: 0, font: '12px Roboto' }] });
curveChart({ l: 309, r: 410.3, t: kTop, b: kBot }, { xMin: 0, xMax: 150, yMax: 180, ticks: karaChiTicks, labels: karaChiLabels,
  datasets: [blackLine(karaChiUpper), blackLine(karaChiLower)] });
curveChart({ l: 427.3, r: 569.3, t: kTop, b: kBot }, { xMin: 0, xMax: 60, yMax: 180, ticks: marTicks, labels: marLabels,
  datasets: [marSet(karaMarUpper), marSet(karaMarLower)] });
const kMag = stripChart({ l: 588, r: 599, t: kTop, b: kBot }, { axis: false, yMax: 180, extent: karaMagExtent, layers: karaNormal,
  layerColor: '#000', baseColor: '#fff', edge: '#000', barW: 11,
  text: [{ names: karaMagNames, ys: karaMagDepth, dx: 4, font: '13.5px Roboto' }] });

// ---------------- LINGTAI ----------------
const lTop = 124, lBot = 705.6;
const lCol = stripChart({ l: 655, r: 684, t: lTop, b: lBot }, { axis: true, yMax: 170, extent: lingColumn, layers: lingPaleosol,
  layerColor: PALEO, baseColor: LOESS, edge: '#3a3a3a', barW: 23,
  text: [{ names: lingSoilNames, ys: lingSoilDepth, dx: 0, font: '12px Roboto' }] });
curveChart({ l: 697.3, r: 798.3, t: lTop, b: lBot }, { xMin: 0, xMax: 300, yMax: 170, ticks: lingChiTicks, labels: lingChiLabels,
  datasets: [blackLine(lingChi)] });
const lMag = stripChart({ l: 810, r: 822, t: lTop, b: lBot }, { axis: false, yMax: 170, extent: lingMagExtent, layers: lingNormal,
  layerColor: '#000', baseColor: '#fff', edge: '#000', barW: 12,
  text: [{ names: lingMagNames, ys: lingMagDepth, dx: 4, font: '13.5px Roboto' }] });

// ---------------- BENTHIC d18O ----------------
const dArea = { l: 881, r: 993, t: 124, b: 705.6 };
const d18 = curveChart(dArea, { xMin: 2.825, xMax: 5.625, xReverse: true, ticks: d18Ticks, labels: d18Labels,
  datasets: [
    { data: toXY(d18Record), showLine: true, borderColor: '#111', borderWidth: 1.1, pointRadius: 0, clip: false, tension: 0 },
    { data: toXY(d18Record), showLine: true, borderColor: 'rgba(160,160,160,0.35)', borderWidth: 3, pointRadius: 0, clip: false, tension: 0 }
  ],
  text: [{ names: misNames, xs: misDelta, ys: misAge, font: '10.5px Roboto', color: '#333', align: 'center', leader: 4.6 }],
  yAxis: { type: 'linear', min: 0, max: 2.75, reverse: true, position: 'left',
    afterFit: s => { s.width = YW; },
    afterBuildTicks: s => { s.ticks = ageTicks.map(v => ({ value: v })); },
    ticks: { autoSkip: false, padding: 4, callback: v => (ageLabels.some(a => Math.abs(a - v) < 1e-6) ? v.toFixed(1) : '') },
    grid: { display: true, drawOnChartArea: false, drawTicks: true, tickLength: 5, color: '#333' },
    border: { display: true, color: '#333', width: 1 } }
});

// ---------------- BANDS (behind) ----------------
function edges(ch) { const el = ch.getDatasetMeta(0).data[0]; return { l: el.x - el.width / 2, r: el.x + el.width / 2 }; }
function seg(col, mag, rng) {
  return { l: edges(col).l, r: edges(mag).r, t: col.scales.y.getPixelForValue(rng[0]), b: col.scales.y.getPixelForValue(rng[1]) };
}
bandCtx.fillStyle = BAND;
for (let i = 0; i < bandAge.length; i++) {
  const segs = [];
  if (bandChash[i]) segs.push(seg(cCol, cMag, bandChash[i]));
  segs.push(seg(kCol, kMag, bandKara[i]));
  segs.push(seg(lCol, lMag, bandLing[i]));
  segs.push({ l: d18.chartArea.left, r: d18.chartArea.right, t: d18.scales.y.getPixelForValue(bandAge[i][0]), b: d18.scales.y.getPixelForValue(bandAge[i][1]) });
  bandCtx.beginPath();
  segs.forEach((s, k) => { if (k === 0) bandCtx.moveTo(s.l, s.t); else bandCtx.lineTo(s.l, s.t); bandCtx.lineTo(s.r, s.t); });
  for (let k = segs.length - 1; k >= 0; k--) { bandCtx.lineTo(segs[k].r, segs[k].b); bandCtx.lineTo(segs[k].l, segs[k].b); }
  bandCtx.closePath(); bandCtx.fill();
}

// ---------------- CHRON BOUNDARY DASHED LINES (top) ----------------
const octx = plainCanvas(40);
octx.strokeStyle = '#222'; octx.lineWidth = 1; octx.setLineDash([6, 4]);
function chronLine(vals) {
  const pts = [];
  const secs = [[cCol, cMag], [kCol, kMag], [lCol, lMag]];
  secs.forEach((s, k) => {
    if (vals[k] === null) return;
    const y = s[0].scales.y.getPixelForValue(vals[k]);
    pts.push([s[0].chartArea.left, y], [edges(s[1]).r + 18, y]);
  });
  pts.push([d18.chartArea.left, d18.scales.y.getPixelForValue(vals[3])]);
  octx.beginPath();
  pts.forEach((p, i) => { if (i === 0) octx.moveTo(p[0], p[1]); else octx.lineTo(p[0], p[1]); });
  octx.stroke();
}
chronLine(brunhesMatuyama);
chronLine(matuyamaGauss);
</script>
</body></html>
